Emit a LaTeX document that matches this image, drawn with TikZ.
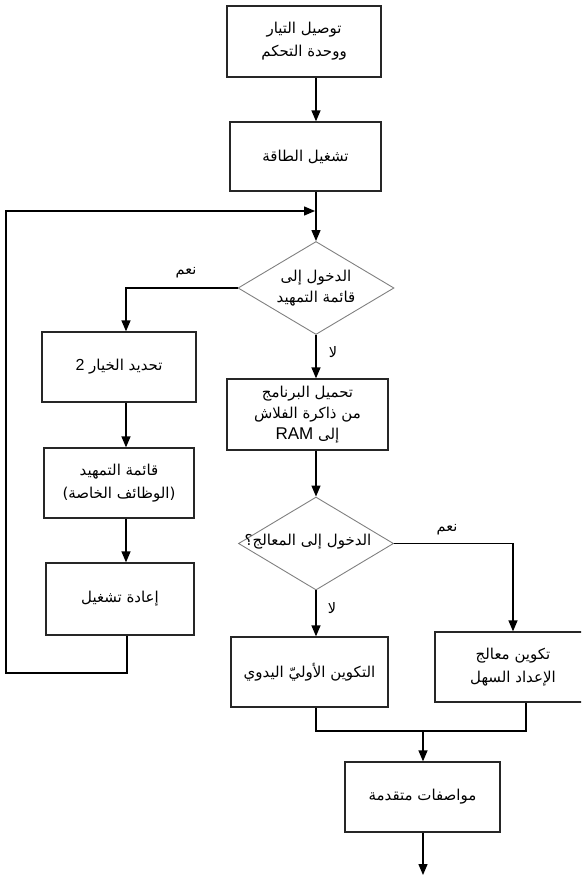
\documentclass[tikz,border=0pt]{standalone}
\usepackage{fontspec}
\usetikzlibrary{arrows.meta,shapes.geometric}
\TeXXeTstate=1
\newfontfamily\arabicfont[Script=Arabic]{DejaVu Sans}
\newfontfamily\latinfont{Liberation Sans}
\newcommand{\artxt}[1]{\beginR #1\endR}
\begin{document}
\begin{tikzpicture}[x=1pt,y=-1pt,
  box/.style={draw=black!85,line width=1.3pt,rectangle,inner sep=0pt,align=center,
    font=\arabicfont\fontsize{15}{23}\selectfont},
  dia/.style={draw=black!50,line width=0.9pt,diamond,inner sep=0pt},
  dtxt/.style={inner sep=0pt,align=center,font=\arabicfont\fontsize{15}{21}\selectfont},
  arr/.style={line width=1.3pt,-{Triangle[width=9pt,length=11pt]}},
  ln/.style={line width=1.3pt},
  lbl/.style={font=\arabicfont\fontsize{14.5}{16}\selectfont,inner sep=0pt}]
\useasboundingbox (0,0) rectangle (581,875);
\clip (0,0) rectangle (581,875);
% boxes
\node[box,minimum width=154pt,minimum height=71pt] (b1) at (304,41.5) {\artxt{توصيل التيار}\\\artxt{ووحدة التحكم}};
\node[box,minimum width=151pt,minimum height=69pt] (b2) at (305.5,156.5) {\artxt{تشغيل الطاقة}};
\node[dia,minimum width=156pt,minimum height=93pt] (d1) at (316,288) {};
\node[dtxt] (t1) at (d1.center) {\artxt{الدخول إلى}\\\artxt{قائمة التمهيد}};
\node[box,minimum width=154pt,minimum height=70pt] (b3) at (119,367) {\artxt{تحديد الخيار {\latinfont\fontsize{16}{20}\selectfont 2}}};
\node[box,minimum width=150pt,minimum height=70pt] (b4) at (119,483) {\artxt{قائمة التمهيد}\\\artxt{(الوظائف الخاصة)}};
\node[box,minimum width=148pt,minimum height=72pt] (b5) at (120,599) {\artxt{إعادة تشغيل}};
\node[box,minimum width=161pt,minimum height=71pt,font=\arabicfont\fontsize{15}{21}\selectfont] (b6) at (307.5,414.5) {\artxt{تحميل البرنامج}\\\artxt{من ذاكرة الفلاش}\\\artxt{إلى \beginL{\latinfont\fontsize{17}{20}\selectfont RAM}\endL}};
\node[dia,minimum width=155pt,minimum height=93pt] (d2) at (316,543.5) {};
\node[dtxt] (t2) at (308,542) {\artxt{الدخول إلى المعالج؟}};
\node[box,minimum width=157pt,minimum height=70pt] (b7) at (309.5,672) {\artxt{التكوين الأوليّ اليدوي}};
\node[box,minimum width=156pt,minimum height=70pt] (b8) at (513,667) {\artxt{تكوين معالج}\\\artxt{الإعداد السهل}};
\node[box,minimum width=155pt,minimum height=70pt] (b9) at (422.5,797) {\artxt{مواصفات متقدمة}};
% labels
\node[lbl] (yes1) at (186,273) {\artxt{نعم}};
\node[lbl] (no1) at (333,352) {\artxt{لا}};
\node[lbl] (yes2) at (447,530) {\artxt{نعم}};
\node[lbl] (no2) at (332,608) {\artxt{لا}};
% coordinates
\coordinate (c1) at (126,0);
\coordinate (j) at (315,211);
\coordinate (lp1) at (127,673);
\coordinate (lp2) at (6,673);
\coordinate (lp3) at (6,211);
\coordinate (ml) at (316,731);
\coordinate (mr) at (526,731);
\coordinate (m) at (423,731);
\coordinate (fin) at (423,875);
% connectors
\draw[arr] (b1.south -| d1.north) -- (b2.north -| d1.north);
\draw[arr] (b2.south -| d1.north) -- (d1.north);
\draw[arr] (b5.south -| lp1) -- (lp1) -- (lp2) -- (lp3) -- (j);
\draw[arr] (d1.west) -| (b3.north -| c1);
\draw[arr] (b3.south -| c1) -- (b4.north -| c1);
\draw[arr] (b4.south -| c1) -- (b5.north -| c1);
\draw[arr] (d1.south) -- (b6.north -| d1.south);
\draw[arr] (b6.south -| d2.north) -- (d2.north);
\draw[arr] (d2.east) -| (b8.north);
\draw[arr] (d2.south) -- (b7.north -| d2.south);
\draw[ln] (b7.south -| ml) -- (ml) -- (mr) -- (b8.south -| mr);
\draw[arr] (m) -- (b9.north -| m);
\draw[arr] (b9.south -| m) -- (fin);
\end{tikzpicture}
\end{document}
